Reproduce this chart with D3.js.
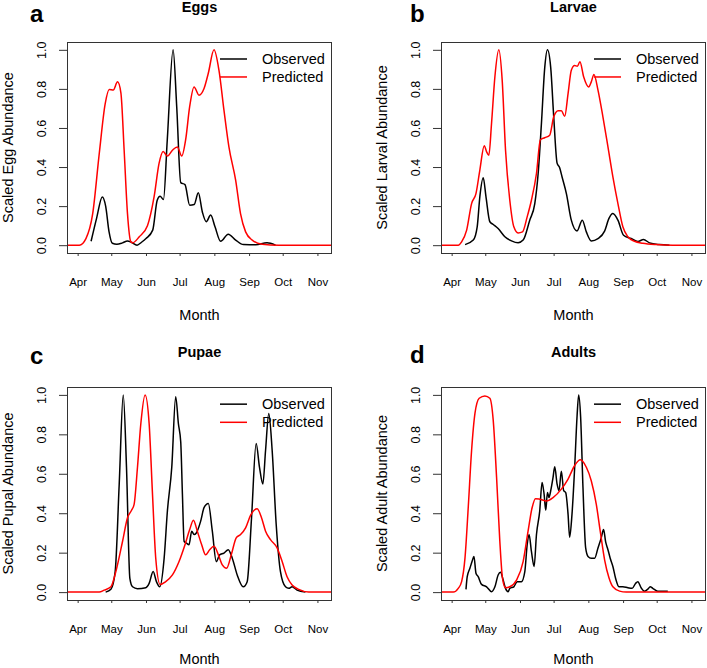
<!DOCTYPE html>
<html>
<head>
<meta charset="utf-8">
<script src="https://cdn.jsdelivr.net/npm/d3@7"></script>
<style>
  body { margin: 0; background: #fff; }
</style>
</head>
<body>
<script>
// x values are days after 1 April, y values are scaled abundance (0-1)
var monthDays = [0, 30, 61, 91, 122, 153, 183, 214];
var monthLabels = ['Apr', 'May', 'Jun', 'Jul', 'Aug', 'Sep', 'Oct', 'Nov'];
var yTicks = [0, 0.2, 0.4, 0.6, 0.8, 1.0];
var legendLabels = ['Observed', 'Predicted'];

var panelLetters = ['a', 'b', 'c', 'd'];
var panelTitles = ['Eggs', 'Larvae', 'Pupae', 'Adults'];
var yLabels = ['Scaled Egg Abundance', 'Scaled Larval Abundance', 'Scaled Pupal Abundance', 'Scaled Adult Abundance'];

var eggsObserved = [[12,0.02],[17,0.14],[22,0.247],[25,0.2],[28,0.07],[31,0.01],[35,0.005],[40,0.012],[44.5,0.022],[48,0.015],[53,0.0],[57,0.015],[61,0.034],[67,0.077],[71,0.23],[73.6,0.25],[76.6,0.234],[80,0.54],[85.2,1.0],[88.4,0.71],[92,0.32],[95.8,0.31],[100,0.205],[104,0.208],[107.7,0.268],[111.3,0.17],[114.8,0.12],[118.7,0.154],[122.6,0.094],[127.6,0.02],[134.4,0.056],[141,0.026],[148,0.003],[159,0.002],[169,0.012],[176.6,0.0]];
var eggsPredicted = [[-9.5,0],[1.5,0.0],[7.4,0.034],[13.4,0.16],[19.3,0.47],[24.6,0.725],[28.2,0.797],[31.8,0.794],[35.6,0.836],[38.6,0.78],[41.5,0.486],[44.5,0.16],[47.5,0.017],[49,0.012],[55,0.043],[62.3,0.1],[68.2,0.247],[72.7,0.42],[76.3,0.48],[80.1,0.456],[84.6,0.486],[89,0.503],[92.9,0.456],[96.4,0.54],[100,0.71],[103.9,0.81],[108.3,0.768],[112.8,0.802],[116.6,0.88],[121.7,1.0],[126.1,0.896],[130.6,0.69],[135,0.503],[141,0.333],[145.4,0.16],[149.9,0.068],[155.8,0.026],[164.7,0.005],[179.5,0],[227,0]];

var larvaeObserved = [[12,0.003],[19.3,0.026],[22.8,0.094],[25.2,0.25],[28.2,0.345],[30.6,0.25],[34.1,0.12],[37.1,0.106],[41.5,0.085],[47.5,0.043],[53.4,0.022],[59.3,0.012],[63.8,0.026],[69.7,0.128],[74.2,0.213],[77.2,0.367],[80.1,0.62],[83.1,0.91],[85.5,1.0],[88.4,0.91],[91.1,0.657],[94.1,0.42],[96.4,0.396],[98.5,0.35],[102.4,0.264],[106.8,0.128],[111.9,0.073],[116.6,0.128],[120.2,0.068],[124.6,0.022],[130.6,0.034],[136.5,0.072],[140.4,0.137],[143.9,0.162],[148.4,0.128],[153.4,0.051],[160.2,0.034],[166.2,0.019],[171.2,0.029],[176.6,0.012],[185.5,0.003],[194.4,0.0]];
var larvaePredicted = [[-9.5,0],[5.9,0],[8.9,0.017],[13.4,0.077],[17.8,0.213],[21.7,0.264],[25.2,0.386],[29.1,0.509],[31.2,0.478],[33.2,0.46],[35.6,0.623],[38.6,0.862],[42.1,1.0],[45.1,0.845],[48.1,0.486],[51.9,0.23],[55.5,0.094],[59.3,0.063],[63.2,0.068],[67.4,0.145],[71.2,0.23],[75.7,0.367],[79.2,0.54],[83.1,0.55],[87.5,0.563],[91.1,0.657],[95,0.688],[97.9,0.688],[100.9,0.66],[103.9,0.776],[106.8,0.896],[109.8,0.92],[112.2,0.916],[114.5,0.939],[117.8,0.862],[122.3,0.81],[124.6,0.836],[127,0.874],[130.6,0.794],[135,0.657],[139.5,0.503],[143.9,0.35],[148.4,0.213],[152.8,0.094],[157.3,0.043],[163.2,0.02],[170.6,0.01],[182.5,0.003],[197.3,0],[227,0]];

var pupaeObserved = [[25,0],[29.7,0.015],[33.5,0.104],[37.1,0.548],[40.7,1.0],[43.6,0.633],[46.6,0.07],[49,0.027],[53.4,0.017],[60.8,0.022],[63.8,0.044],[67.4,0.104],[70.3,0.053],[73.3,0.027],[77.2,0.172],[80.1,0.411],[84,0.633],[87.5,0.991],[89.9,0.855],[92,0.761],[93.5,0.497],[95,0.258],[97,0.249],[99.4,0.24],[101.8,0.309],[103.9,0.292],[105.9,0.3],[109.8,0.36],[112.8,0.428],[116.6,0.449],[120.2,0.309],[123.7,0.155],[126.7,0.189],[130.6,0.198],[134.4,0.215],[138,0.172],[142.4,0.087],[147.8,0.027],[151.3,0.053],[155.2,0.377],[159.3,0.753],[162.3,0.633],[165.3,0.548],[167.7,0.718],[170.6,0.906],[173.6,0.718],[177.2,0.343],[181,0.104],[185.5,0.027],[188.4,0.019],[191.4,0.027],[195.8,0.01],[203.3,0]];
var pupaePredicted = [[-9.5,0],[19.3,0],[23.7,0.01],[29.7,0.027],[34.1,0.104],[40.1,0.258],[44.5,0.377],[48.1,0.415],[50.4,0.445],[53.4,0.633],[56.4,0.855],[60.2,1.0],[63.8,0.855],[66.8,0.497],[69.7,0.172],[73.6,0.039],[78.6,0.053],[84.6,0.087],[90.5,0.155],[95.8,0.24],[100,0.317],[103.3,0.365],[106.8,0.309],[110.7,0.24],[114.2,0.189],[117.8,0.215],[121.7,0.232],[126.1,0.181],[129.1,0.138],[132.9,0.121],[137.1,0.189],[141.5,0.275],[145.4,0.292],[149.9,0.326],[154.3,0.389],[160.2,0.423],[164.1,0.377],[167.7,0.309],[172.1,0.266],[178,0.224],[182.5,0.155],[186.9,0.078],[191.4,0.036],[197.3,0.014],[206.2,0],[227,0]];

var adultsObserved = [[12.8,0.014],[13.9,0.078],[16.3,0.121],[18.4,0.159],[19.9,0.181],[21.7,0.096],[23.7,0.078],[26.7,0.039],[31.2,0.027],[35.6,0.002],[38.6,0.027],[41.5,0.087],[43.6,0.101],[46,0.061],[48.1,0.019],[50.4,0.002],[51.9,0.019],[55.5,0.027],[58.5,0.053],[62.3,0.053],[65.3,0.104],[67.4,0.24],[69.1,0.292],[71.2,0.206],[73.6,0.13],[75.7,0.292],[78.6,0.411],[80.7,0.556],[82.5,0.497],[84,0.415],[85.5,0.505],[86.9,0.48],[88.4,0.514],[90.5,0.582],[92,0.636],[94.1,0.548],[95.8,0.514],[97.9,0.613],[100,0.514],[101.8,0.505],[103.9,0.394],[105.3,0.278],[107.4,0.394],[109.8,0.633],[111.9,0.889],[113.4,1.0],[115.1,0.889],[117.2,0.531],[119.6,0.224],[121.7,0.181],[124.6,0.172],[127.6,0.172],[130.6,0.224],[133.5,0.275],[135.6,0.317],[137.4,0.256],[139.5,0.215],[141.5,0.172],[143.9,0.13],[146.3,0.07],[149.3,0.027],[152.8,0.027],[157.3,0.022],[161.1,0.019],[164.1,0.044],[166.2,0.053],[169.1,0.022],[172.1,0.005],[175.1,0.015],[177.2,0.027],[179.5,0.019],[184,0.005],[192.9,0.005]];
var adultsPredicted = [[-9.5,0],[1.5,0],[5.9,0.019],[8.9,0.053],[11.9,0.172],[14.8,0.428],[17.8,0.718],[20.8,0.906],[24.6,0.983],[29.7,0.995],[34.1,0.983],[37.1,0.872],[40.1,0.582],[43,0.258],[45.4,0.07],[48.1,0.022],[51.9,0.027],[57.9,0.061],[63.8,0.155],[68.2,0.309],[71.8,0.428],[74.8,0.474],[78.6,0.471],[84.6,0.462],[90.5,0.479],[97.9,0.522],[103.9,0.573],[109.8,0.642],[114.8,0.671],[120.2,0.633],[124.6,0.565],[129.1,0.445],[132.6,0.309],[136.5,0.164],[140.4,0.073],[143.9,0.027],[149.9,0.005],[155.8,0],[227,0]];

var w = 707;
var h = 668;
var font = '"Liberation Sans", Arial, Helvetica, sans-serif';
var obsColor = '#000';
var predColor = '#f00';

var svg = d3.select('body').append('svg').attr('width', w).attr('height', h)
  .style('background', '#fff');

// plot boxes in pixels
var panels = [
  { box: { x: 67, y: 42, w: 265, h: 211 }, letter: { x: 30, y: 22 }, monthY: 320, obs: eggsObserved, pred: eggsPredicted },
  { box: { x: 441, y: 42, w: 265, h: 211 }, letter: { x: 410, y: 22 }, monthY: 320, obs: larvaeObserved, pred: larvaePredicted },
  { box: { x: 67, y: 387, w: 265, h: 213 }, letter: { x: 30, y: 364 }, monthY: 664, obs: pupaeObserved, pred: pupaePredicted },
  { box: { x: 441, y: 387, w: 265, h: 213 }, letter: { x: 410, y: 363 }, monthY: 664, obs: adultsObserved, pred: adultsPredicted }
];

/**
 * draw one panel
 * @param {object} p panel layout + data
 * @param {number} i index
 */
function drawPanel(p, i) {
  var b = p.box;
  var x = d3.scaleLinear().domain([-9.5, 227]).range([b.x, b.x + b.w]);
  var y = d3.scaleLinear().domain([-0.04, 1.04]).range([b.y + b.h, b.y]);
  var g = svg.append('g');

  svg.append('clipPath').attr('id', 'clip' + i)
    .append('rect')
    .attr('x', b.x).attr('y', b.y)
    .attr('width', b.w).attr('height', b.h);

  var line = d3.line()
    .x(function (d) { return x(d[0]); })
    .y(function (d) { return y(d[1]); })
    .curve(d3.curveMonotoneX);

  g.append('path').datum(p.obs)
    .attr('d', line)
    .attr('fill', 'none')
    .attr('stroke', obsColor)
    .attr('stroke-width', 1.5)
    .attr('clip-path', 'url(#clip' + i + ')');

  g.append('path').datum(p.pred)
    .attr('d', line)
    .attr('fill', 'none')
    .attr('stroke', predColor)
    .attr('stroke-width', 1.5)
    .attr('clip-path', 'url(#clip' + i + ')');

  // box
  g.append('rect')
    .attr('x', b.x + 0.5).attr('y', b.y + 0.5)
    .attr('width', b.w - 1).attr('height', b.h)
    .attr('fill', 'none')
    .attr('stroke', '#333')
    .attr('stroke-width', 1);

  // x axis
  var xAxis = d3.axisBottom(x)
    .tickValues(monthDays)
    .tickFormat(function (d, k) { return monthLabels[k]; })
    .tickSize(3)
    .tickPadding(22);
  var xg = g.append('g')
    .attr('transform', 'translate(0,' + (b.y + b.h) + ')')
    .call(xAxis)
    .attr('font-family', font)
    .attr('font-size', 11.5);
  xg.select('.domain').remove();
  xg.selectAll('.tick line').attr('stroke', '#333');
  xg.selectAll('.tick text').attr('fill', '#000');

  // y axis
  var yAxis = d3.axisLeft(y)
    .tickValues(yTicks)
    .tickFormat(d3.format('.1f'))
    .tickSize(8);
  var yg = g.append('g')
    .attr('transform', 'translate(' + b.x + ',0)')
    .call(yAxis)
    .attr('font-family', font)
    .attr('font-size', 12.5);
  yg.select('.domain').remove();
  yg.selectAll('.tick line').attr('stroke', '#333');
  yg.selectAll('.tick text')
    .attr('x', 0).attr('y', 0)
    .attr('dy', '0.35em')
    .attr('text-anchor', 'middle')
    .attr('fill', '#000')
    .attr('transform', 'translate(-25,0) rotate(-90)');

  // labels
  g.append('text')
    .text('Month')
    .attr('x', b.x + b.w / 2)
    .attr('y', p.monthY)
    .attr('text-anchor', 'middle')
    .attr('font-family', font)
    .attr('font-size', 14.5);

  g.append('text')
    .text(yLabels[i])
    .attr('transform', 'translate(' + (b.x - 59) + ',' + (b.y + b.h / 2) + ') rotate(-90)')
    .attr('dy', '0.35em')
    .attr('text-anchor', 'middle')
    .attr('font-family', font)
    .attr('font-size', 14.5);

  g.append('text')
    .text(panelTitles[i])
    .attr('x', b.x + b.w / 2)
    .attr('y', b.y - 30)
    .attr('text-anchor', 'middle')
    .attr('font-family', font)
    .attr('font-weight', 'bold')
    .attr('font-size', 14.5);

  g.append('text')
    .text(panelLetters[i])
    .attr('x', p.letter.x)
    .attr('y', p.letter.y)
    .attr('font-family', font)
    .attr('font-weight', 'bold')
    .attr('font-size', 24);

  // legend
  var legendY = [0.953, 0.861];
  var colors = [obsColor, predColor];
  legendLabels.forEach(function (lab, k) {
    g.append('line')
      .attr('x1', b.x + 153).attr('x2', b.x + 180)
      .attr('y1', y(legendY[k])).attr('y2', y(legendY[k]))
      .attr('stroke', colors[k])
      .attr('stroke-width', 1.5);
    g.append('text')
      .text(lab)
      .attr('x', b.x + 195)
      .attr('y', y(legendY[k]))
      .attr('dy', '0.35em')
      .attr('font-family', font)
      .attr('font-size', 14.5);
  });
}

panels.forEach(function (p, i) {
  drawPanel(p, i);
});
</script>
</body>
</html>
